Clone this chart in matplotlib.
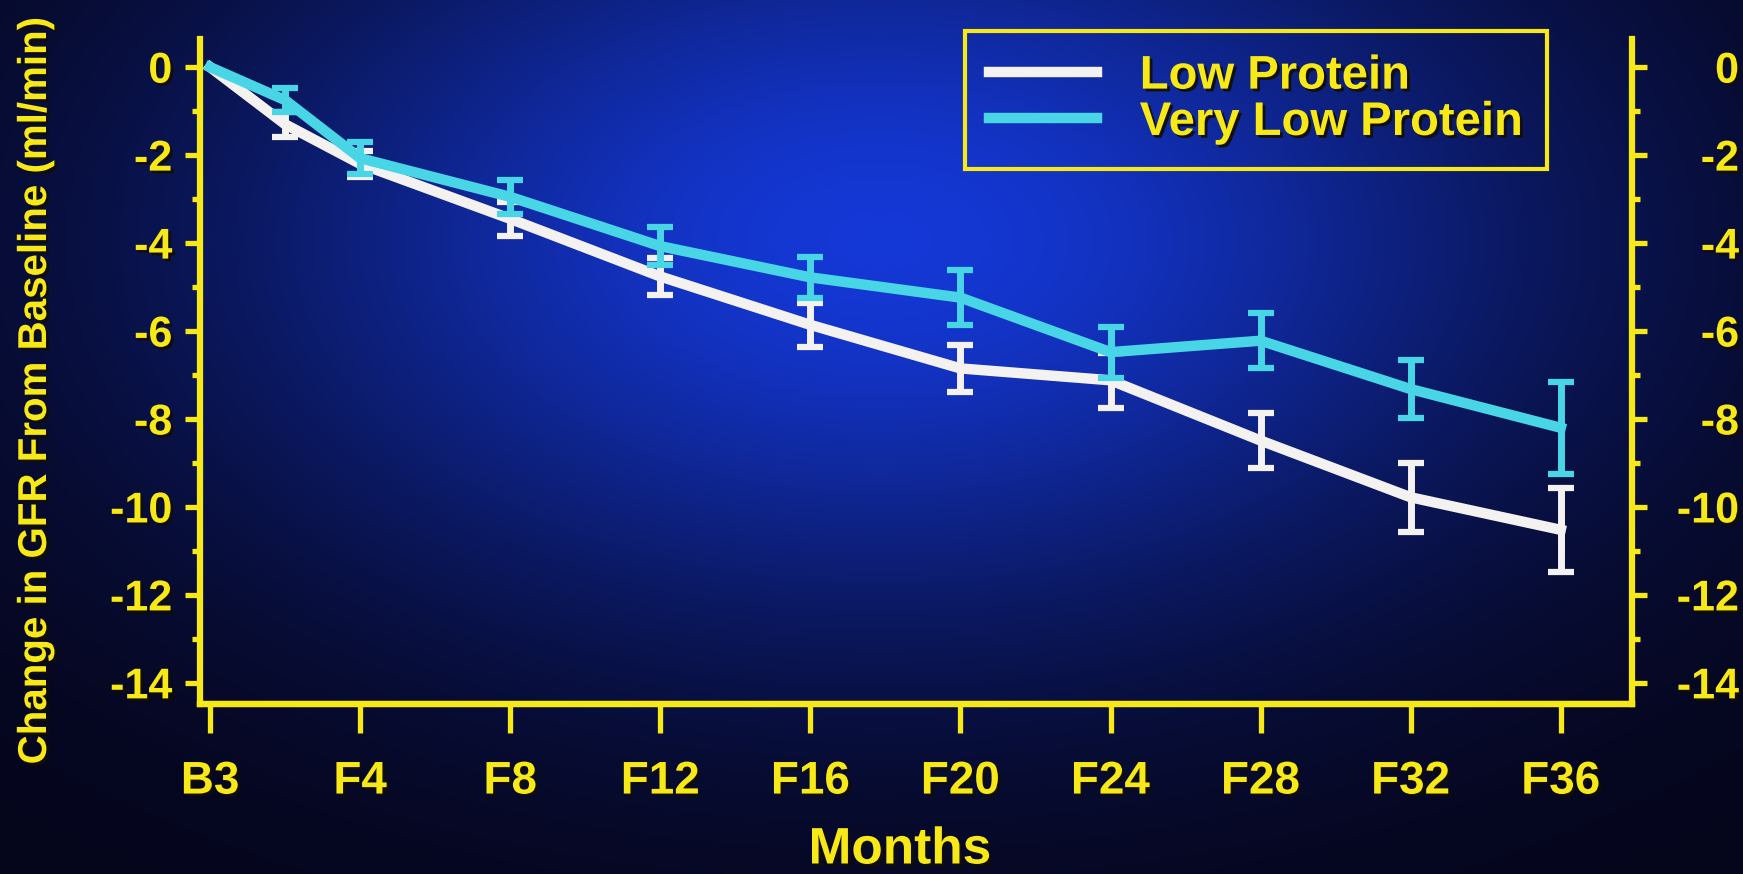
import numpy as np
import matplotlib
matplotlib.use('Agg')
import matplotlib.pyplot as plt
import matplotlib.patheffects as pe
from matplotlib.ticker import MultipleLocator

# months since baseline, B3 = baseline visit
months = [0, 2, 4, 8, 12, 16, 20, 24, 28, 32, 36]
tick_months = [0, 4, 8, 12, 16, 20, 24, 28, 32, 36]
tick_labels = ['B3', 'F4', 'F8', 'F12', 'F16', 'F20', 'F24', 'F28', 'F32', 'F36']

# mean change in GFR (ml/min) and SE, follow-up points only carry error bars
low_protein = [0, -1.3, -2.2, -3.45, -4.76, -5.86, -6.85, -7.12, -8.49, -9.78, -10.52]
low_protein_se = [0.28, 0.3, 0.38, 0.42, 0.5, 0.53, 0.62, 0.62, 0.78, 0.95]
very_low_protein = [0, -0.75, -2.07, -2.95, -4.07, -4.78, -5.24, -6.48, -6.22, -7.32, -8.2]
very_low_protein_se = [0.27, 0.36, 0.38, 0.43, 0.47, 0.62, 0.58, 0.62, 0.66, 1.05]

yellow = '#f7e818'
white = '#f4f2f0'
cyan = '#48d6e6'

plt.rcParams['font.family'] = 'Liberation Sans'
plt.rcParams['font.weight'] = 'bold'
plt.rcParams['axes.labelweight'] = 'bold'
plt.rcParams['axes.unicode_minus'] = False

W, H = 1743, 874
fig = plt.figure(figsize=(W / 100, H / 100), dpi=100)

# slide background: blue glow fading to navy
yy, xx = np.mgrid[0:H, 0:W]
dist2 = ((xx - 880) / 650.0) ** 2 + ((yy - 240) / 380.0) ** 2
glow = np.exp(-dist2)[..., None]
dark = np.array([0.02, 0.02, 0.10])
bright = np.array([0.08, 0.22, 0.84])
bg = fig.add_axes([0, 0, 1, 1], zorder=-1)
bg.imshow(dark + (bright - dark) * glow, aspect='auto')
bg.axis('off')

ax = fig.add_axes([200 / W, 1 - 704 / H, 1432 / W, 665 / H])
ax.patch.set_alpha(0)

line_lp, = ax.plot(months, low_protein, color=white, lw=7.5, solid_joinstyle='round', label='Low Protein')
ax.errorbar(months[1:], low_protein[1:], yerr=low_protein_se, fmt='none',
            ecolor=white, elinewidth=5, capsize=9.5, capthick=4.5)
line_vlp, = ax.plot(months, very_low_protein, color=cyan, lw=7.5, solid_joinstyle='round',
                    label='Very Low Protein')
ax.errorbar(months[1:], very_low_protein[1:], yerr=very_low_protein_se, fmt='none',
            ecolor=cyan, elinewidth=5, capsize=9.5, capthick=4.5)

ax.set_xlim(-0.27, 37.9)
ax.set_ylim(-14.48, 0.64)
ax.set_xticks(tick_months, tick_labels)

# right-hand axis repeats the GFR scale
ax_r = ax.twinx()
ax_r.set_ylim(ax.get_ylim())

for a in (ax, ax_r):
    a.set_yticks(range(0, -15, -2))
    a.yaxis.set_minor_locator(MultipleLocator(1))
    a.spines['top'].set_visible(False)
    for side in ['left', 'right', 'bottom']:
        a.spines[side].set_color(yellow)
        a.spines[side].set_linewidth(4.5)
        a.spines[side].set_capstyle('projecting')
    a.tick_params(axis='y', which='major', direction='out', length=11, width=3.8, color=yellow,
                  labelcolor=yellow, labelsize=31)
    a.tick_params(axis='y', which='minor', direction='out', length=6, width=3.8, color=yellow)

ax.spines['right'].set_visible(False)
ax_r.spines['left'].set_visible(False)
ax.tick_params(axis='y', which='both', pad=9)
ax_r.tick_params(axis='y', which='major', pad=66)
for lbl in ax_r.get_yticklabels():
    lbl.set_horizontalalignment('right')

ax.tick_params(axis='x', direction='out', length=21, width=3.8, color=yellow,
               labelcolor=yellow, labelsize=33, pad=19)

ax.set_xlabel('Months', fontsize=37, color=yellow)
ax.xaxis.label.set_va('center')
ax.xaxis.set_label_coords(700 / 1432, -146 / 665)
ax.set_ylabel('Change in GFR From Baseline (ml/min)', fontsize=29, color=yellow)
ax.yaxis.label.set_va('center')
ax.yaxis.set_label_coords(-165 / 1432, 313 / 665)

leg = ax_r.legend(handles=[line_lp, line_vlp], loc='upper left',
                  bbox_to_anchor=(965 / W, 1 - 31 / H), bbox_transform=fig.transFigure,
                  fontsize=34, fancybox=False, facecolor='none', edgecolor=yellow,
                  framealpha=1, handlelength=2.3, handletextpad=0.9,
                  labelspacing=0.05, borderpad=0.5, borderaxespad=0)
leg.get_frame().set_linewidth(3)
for txt in leg.get_texts():
    txt.set_color(yellow)

shadow = [pe.withSimplePatchShadow(offset=(2, -2), shadow_rgbFace='#120e00', alpha=0.9)]
texts = leg.get_texts() + [ax.xaxis.label, ax.yaxis.label]
texts += ax.get_xticklabels() + ax.get_yticklabels() + ax_r.get_yticklabels()
for txt in texts:
    txt.set_path_effects(shadow)

fig.savefig('out.png', dpi=100)
